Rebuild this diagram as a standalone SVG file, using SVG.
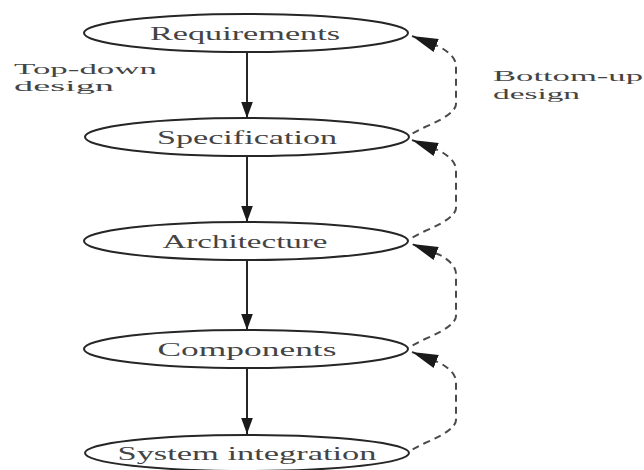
<svg xmlns="http://www.w3.org/2000/svg" width="644" height="470" viewBox="0 0 644 470">
  <defs>
    <marker id="arrowDown" markerWidth="16" markerHeight="22" refX="22" refY="8" orient="auto" markerUnits="userSpaceOnUse" viewBox="0 0 22 16">
      <polygon points="0,0 22,8 0,16" fill="#1a1a1a"/>
    </marker>
    <marker id="arrowUp" markerWidth="26" markerHeight="14" refX="26" refY="7" orient="auto" markerUnits="userSpaceOnUse" viewBox="0 0 26 14">
      <polygon points="0,0 26,7 0,14" fill="#1a1a1a"/>
    </marker>
    <style>
      .stage ellipse { fill: #ffffff; stroke: #262626; stroke-width: 2; }
      .stage text { font-family: "Liberation Serif", "Times New Roman", serif; font-size: 18px; fill: #444444; text-anchor: middle; }
      .note { font-family: "Liberation Serif", "Times New Roman", serif; font-size: 15px; fill: #444444; }
      .down { stroke: #262626; stroke-width: 2; fill: none; marker-end: url(#arrowDown); }
      .up { stroke: #4a4a4a; stroke-width: 2; fill: none; stroke-dasharray: 7 5; marker-end: url(#arrowUp); }
    </style>
  </defs>
  <rect width="644" height="470" fill="#ffffff"/>

  <!-- connectors: top-down solid arrows and bottom-up dashed returns -->
  <g id="connectors">
    <line class="down" x1="247" y1="52" x2="247" y2="118"/>
    <line class="down" x1="247" y1="156" x2="247" y2="222"/>
    <line class="down" x1="247" y1="260" x2="247" y2="330"/>
    <line class="down" x1="247" y1="368" x2="247" y2="434"/>

    <path class="up" d="M 402,139 L 425,127 Q 456,114 456,104 L 456,66 Q 456,56 440,47 L 412,36"/>
    <path class="up" d="M 402,243 L 425,231 Q 456,218 456,208 L 456,170 Q 456,160 440,151 L 412,140"/>
    <path class="up" d="M 402,351 L 425,339 Q 456,326 456,316 L 456,274 Q 456,264 440,255 L 412,244"/>
    <path class="up" d="M 402,455 L 425,443 Q 456,430 456,420 L 456,382 Q 456,372 440,363 L 412,352"/>
  </g>

  <g id="requirements" class="stage">
    <ellipse cx="246" cy="33" rx="162" ry="19"/>
    <text x="245" y="40" textLength="190" lengthAdjust="spacingAndGlyphs">Requirements</text>
  </g>
  <g id="specification" class="stage">
    <ellipse cx="247" cy="137" rx="162" ry="19"/>
    <text x="247" y="144" textLength="180" lengthAdjust="spacingAndGlyphs">Specification</text>
  </g>
  <g id="architecture" class="stage">
    <ellipse cx="246" cy="241" rx="162" ry="19"/>
    <text x="245" y="248" textLength="165" lengthAdjust="spacingAndGlyphs">Architecture</text>
  </g>
  <g id="components" class="stage">
    <ellipse cx="246" cy="349" rx="162" ry="19"/>
    <text x="247" y="356" textLength="179" lengthAdjust="spacingAndGlyphs">Components</text>
  </g>
  <g id="system-integration" class="stage">
    <ellipse cx="247" cy="453" rx="162" ry="18"/>
    <text x="247" y="460" textLength="259" lengthAdjust="spacingAndGlyphs">System integration</text>
  </g>

  <g id="top-down-label">
    <text class="note" x="14" y="74" textLength="143" lengthAdjust="spacingAndGlyphs">Top-down</text>
    <text class="note" x="14" y="91" textLength="100" lengthAdjust="spacingAndGlyphs">design</text>
  </g>
  <g id="bottom-up-label">
    <text class="note" x="493" y="81" textLength="150" lengthAdjust="spacingAndGlyphs">Bottom-up</text>
    <text class="note" x="493" y="99" textLength="87" lengthAdjust="spacingAndGlyphs">design</text>
  </g>
</svg>
